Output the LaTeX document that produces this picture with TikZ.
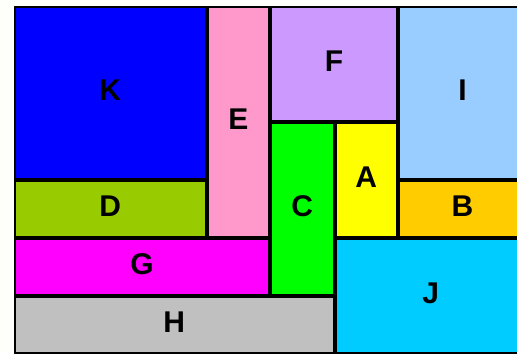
\documentclass[tikz,border=0pt]{standalone}
\usepackage{fontspec}
\newfontfamily\tilefont{Liberation Sans}
\usepackage{tikz}

\definecolor{pagebg}{RGB}{254,255,250}
\definecolor{tileK}{HTML}{0000FF}
\definecolor{tileD}{HTML}{99CC00}
\definecolor{tileE}{HTML}{FF99CC}
\definecolor{tileG}{HTML}{FF00FF}
\definecolor{tileH}{HTML}{C0C0C0}
\definecolor{tileF}{HTML}{CC99FF}
\definecolor{tileC}{HTML}{00FF00}
\definecolor{tileA}{HTML}{FFFF00}
\definecolor{tileI}{HTML}{99CCFF}
\definecolor{tileB}{HTML}{FFCC00}
\definecolor{tileJ}{HTML}{00CCFF}

\begin{document}
\begin{tikzpicture}[x=0.5pt, y=-0.5pt,
  tile/.style={rectangle, draw=black, line width=1pt, inner sep=0pt,
    text depth=3pt, font=\tilefont\bfseries\fontsize{15}{17}\selectfont}]
  \useasboundingbox (0,0) rectangle (517,353);
  \fill[pagebg] (0,0) rectangle (517,353);
  \clip (0,0) rectangle (517,353);
  % tiles: name / left / top / right / bottom (pixels)
  \foreach \name/\xa/\ya/\xb/\yb in {
      K/14/6/206.5/180, D/14/180/206.5/238, E/206.5/6/270/238,
      G/14/238/270/296, H/14/296/334.5/354, F/270/6/398/122,
      C/270/122/334.5/296, A/334.5/122/398/238, I/398/6/527/180,
      B/398/180/527/238, J/334.5/238/527/354} {
    \pgfmathsetmacro\tw{(\xb-\xa-2)*0.5}
    \pgfmathsetmacro\th{(\yb-\ya-2)*0.5}
    \node[tile, fill=tile\name, minimum width=\tw pt, minimum height=\th pt]
      (\name) at ({(\xa+\xb)/2},{(\ya+\yb)/2}) {\name};
  }
\end{tikzpicture}
\end{document}
